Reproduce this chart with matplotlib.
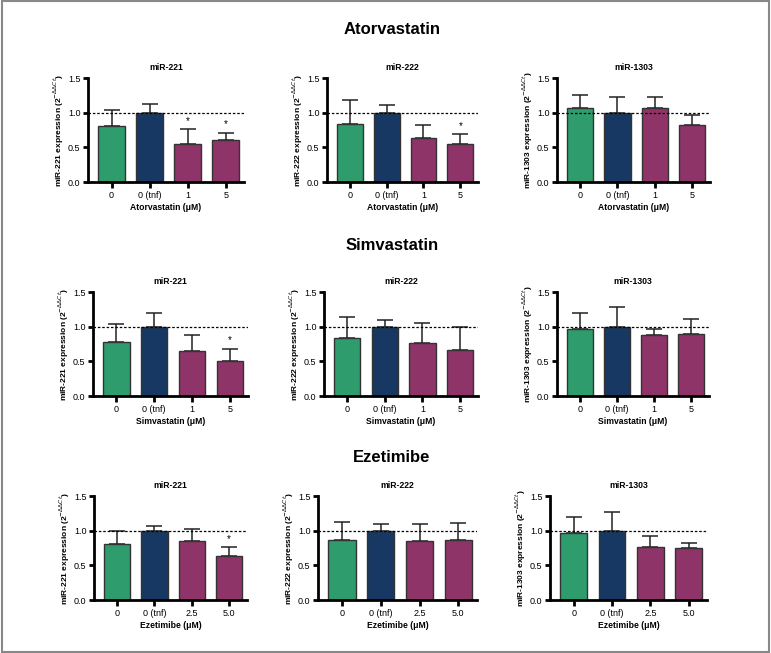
import matplotlib.pyplot as plt
from matplotlib import font_manager
from matplotlib.patches import Rectangle

names = {f.name for f in font_manager.fontManager.ttflist}
main_font = 'Liberation Sans Narrow' if 'Liberation Sans Narrow' in names else 'Liberation Sans'
plt.rcParams['font.family'] = [main_font, 'DejaVu Sans']

drugs = ['Atorvastatin', 'Simvastatin', 'Ezetimibe']
mirnas = ['miR-221', 'miR-222', 'miR-1303']
dose_labels = {
    'Atorvastatin': ['0', '0 (tnf)', '1', '5'],
    'Simvastatin': ['0', '0 (tnf)', '1', '5'],
    'Ezetimibe': ['0', '0 (tnf)', '2.5', '5.0'],
}

# mean expression per (drug, miRNA)
means = {
    ('Atorvastatin', 'miR-221'): [0.81, 1.00, 0.55, 0.60],
    ('Atorvastatin', 'miR-222'): [0.83, 1.00, 0.63, 0.55],
    ('Atorvastatin', 'miR-1303'): [1.07, 1.00, 1.07, 0.82],
    ('Simvastatin', 'miR-221'): [0.78, 1.00, 0.65, 0.51],
    ('Simvastatin', 'miR-222'): [0.84, 1.00, 0.76, 0.67],
    ('Simvastatin', 'miR-1303'): [0.97, 1.00, 0.88, 0.90],
    ('Ezetimibe', 'miR-221'): [0.81, 1.00, 0.85, 0.64],
    ('Ezetimibe', 'miR-222'): [0.86, 1.00, 0.85, 0.86],
    ('Ezetimibe', 'miR-1303'): [0.97, 1.00, 0.77, 0.75],
}
# upper error (SD)
errors = {
    ('Atorvastatin', 'miR-221'): [0.23, 0.13, 0.21, 0.11],
    ('Atorvastatin', 'miR-222'): [0.35, 0.11, 0.19, 0.14],
    ('Atorvastatin', 'miR-1303'): [0.19, 0.22, 0.15, 0.15],
    ('Simvastatin', 'miR-221'): [0.26, 0.20, 0.23, 0.17],
    ('Simvastatin', 'miR-222'): [0.30, 0.10, 0.29, 0.33],
    ('Simvastatin', 'miR-1303'): [0.23, 0.28, 0.09, 0.21],
    ('Ezetimibe', 'miR-221'): [0.19, 0.07, 0.17, 0.12],
    ('Ezetimibe', 'miR-222'): [0.27, 0.10, 0.25, 0.25],
    ('Ezetimibe', 'miR-1303'): [0.23, 0.27, 0.15, 0.07],
}
# significance markers
stars = {
    ('Atorvastatin', 'miR-221'): [2, 3],
    ('Atorvastatin', 'miR-222'): [3],
    ('Simvastatin', 'miR-221'): [3],
    ('Ezetimibe', 'miR-221'): [3],
}

colors = ['#2f9c6e', '#163862', '#8f3468', '#8f3468']

W, H = 771, 653
fig = plt.figure(figsize=(W / 100, H / 100), dpi=100)
fig.patches.append(Rectangle((0.002, 0.002), 0.996, 0.996, transform=fig.transFigure,
                             fill=False, edgecolor='#888888', linewidth=1.5))

# panel geometry in pixels
lefts = [[88, 327, 557], [93, 324, 557], [94, 318, 550]]
rights = [[244, 478, 710], [248, 478, 709], [247, 477, 707]]
tops = [78, 292, 496]
ax_h = 104
title_y = [30, 246, 457]

for r, drug in enumerate(drugs):
    fig.text(392 / W, 1 - title_y[r] / H, drug, ha='center', va='center',
             fontsize=12, fontweight='bold')
    for c, mir in enumerate(mirnas):
        x0, x1 = lefts[r][c], rights[r][c]
        ax = fig.add_axes([x0 / W, 1 - (tops[r] + ax_h) / H, (x1 - x0) / W, ax_h / H])
        m = means[(drug, mir)]
        e = errors[(drug, mir)]
        x = range(len(m))
        ax.bar(x, m, width=0.7, color=colors, edgecolor='#333333', linewidth=1.0, zorder=2)
        ax.errorbar(x, m, yerr=[[0] * len(e), e], fmt='none', ecolor='#222222',
                    elinewidth=1.1, capsize=6, capthick=1.1, zorder=1)
        ax.axhline(1.0, color='black', linestyle=(0, (2, 1.5)), linewidth=0.9, zorder=3)
        for i in stars.get((drug, mir), []):
            ax.text(i, m[i] + e[i] + 0.05, '*', ha='center', va='bottom', fontsize=7)
        ax.set_xlim(-0.62, 3.48)
        ax.set_ylim(0, 1.5)
        ax.set_yticks([0, 0.5, 1.0, 1.5])
        ax.set_yticklabels(['0.0', '0.5', '1.0', '1.5'])
        ax.set_xticks(list(x))
        ax.set_xticklabels(dose_labels[drug])
        ax.spines['top'].set_visible(False)
        ax.spines['right'].set_visible(False)
        ax.spines['left'].set_linewidth(2)
        ax.spines['bottom'].set_linewidth(2)
        ax.tick_params(axis='both', labelsize=6.5, width=2, length=3.5, pad=2)
        ax.tick_params(axis='x', length=4.5)
        ax.set_xlabel(drug + ' (\u03bcM)', fontsize=6.2, fontweight='bold', labelpad=2)
        ax.set_ylabel(mir + r' expression (2$^{-\Delta\Delta Ct}$)', fontsize=6,
                      fontweight='bold', labelpad=1)
        ax.set_title(mir, fontsize=6.2, fontweight='bold', pad=6)

fig.savefig('out.png', dpi=100)
